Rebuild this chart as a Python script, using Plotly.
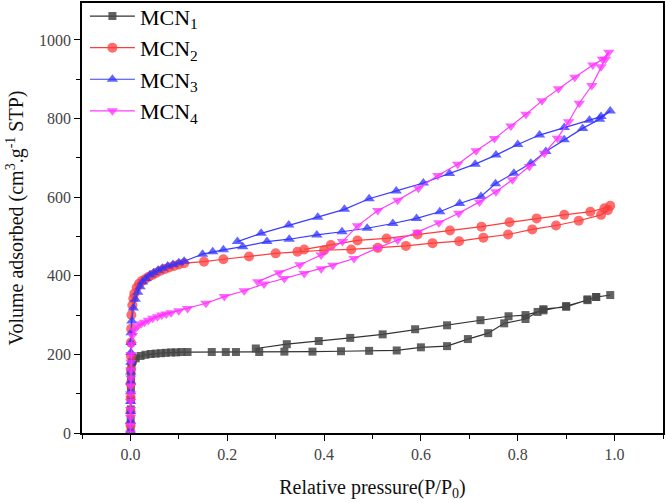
import plotly.graph_objects as go

# ---- data ----
# MCN1
p1_ads = [0.0004, 0.0005, 0.0006, 0.0008, 0.001, 0.0012, 0.0015, 0.002, 0.003, 0.005, 0.011, 0.021, 0.031,
          0.042, 0.052, 0.063, 0.073, 0.084, 0.094, 0.105, 0.118, 0.168, 0.197, 0.218, 0.266, 0.318,
          0.376, 0.435, 0.493, 0.550, 0.600, 0.654, 0.697, 0.739, 0.772, 0.816, 0.841, 0.853, 0.900,
          0.944, 0.962, 0.991]
v1_ads = [10, 35, 60, 85, 110, 135, 155, 170, 180, 185, 190, 196, 199,
          201, 202, 203, 204, 205, 205, 206, 206, 206, 206, 206, 206, 207,
          207, 208, 209, 210, 218, 221, 239, 254, 279, 290, 308, 315, 321,
          340, 346, 351]
p1_des = [0.962, 0.944, 0.900, 0.853, 0.816, 0.781, 0.723, 0.654, 0.588, 0.521, 0.454, 0.389, 0.323, 0.259]
v1_des = [346, 338, 323, 312, 300, 297, 287, 274, 264, 251, 242, 234, 226, 215]

# MCN2
p2_ads = [0.0003, 0.0004, 0.0005, 0.0006, 0.0008, 0.001, 0.0012, 0.0015, 0.002, 0.004, 0.006, 0.008,
          0.013, 0.018, 0.024, 0.030, 0.037, 0.045, 0.053, 0.062, 0.071, 0.080, 0.090, 0.100, 0.111,
          0.152, 0.192, 0.245, 0.300, 0.345, 0.400, 0.456, 0.511, 0.569, 0.624, 0.679, 0.729, 0.780,
          0.830, 0.879, 0.926, 0.972, 0.986, 0.991]
v2_ads = [20, 55, 90, 125, 160, 195, 230, 265, 300, 325, 342, 355,
          370, 380, 387, 391, 397, 402, 407, 413, 417, 421, 425, 429, 432,
          436, 442, 449, 457, 461, 465, 467, 471, 476, 483, 488, 497, 505,
          518, 528, 540, 555, 567, 578]
p2_des = [0.979, 0.950, 0.896, 0.839, 0.783, 0.725, 0.660, 0.593, 0.529, 0.469, 0.414, 0.359]
v2_des = [572, 563, 555, 546, 536, 525, 515, 505, 495, 490, 478, 467]

# MCN3
p3_ads = [0.0002, 0.0003, 0.0004, 0.0005, 0.0006, 0.0007, 0.0008, 0.0009, 0.001, 0.0012, 0.0015, 0.003,
          0.006, 0.010, 0.015, 0.020, 0.025, 0.032, 0.040, 0.048, 0.057, 0.066, 0.077, 0.088, 0.100,
          0.111, 0.149, 0.170, 0.192, 0.232, 0.282, 0.328, 0.385, 0.437, 0.489, 0.542, 0.591, 0.639,
          0.680, 0.724, 0.754, 0.792, 0.827, 0.858, 0.896, 0.934, 0.969, 0.991]
v3_ads = [5, 30, 55, 80, 105, 130, 155, 180, 205, 230, 255, 285,
          318, 340, 358, 372, 384, 393, 402, 408, 414, 419, 425, 429, 433,
          437, 455, 461, 466, 474, 487, 493, 504, 512, 521, 533, 546, 563,
          584, 602, 634, 661, 686, 716, 746, 775, 798, 819]
p3_des = [0.972, 0.948, 0.896, 0.845, 0.800, 0.755, 0.712, 0.659, 0.605, 0.549, 0.493, 0.442,
          0.387, 0.327, 0.270, 0.221]
v3_des = [805, 796, 777, 758, 734, 707, 684, 660, 636, 616, 596, 569,
          549, 529, 508, 487]

# MCN4
p4_ads = [0.0001, 0.0002, 0.0003, 0.0004, 0.0005, 0.0006, 0.0007, 0.0008, 0.0009, 0.001, 0.0012, 0.002,
          0.004, 0.008, 0.015, 0.022, 0.029, 0.037, 0.046, 0.056, 0.065, 0.074, 0.084, 0.100, 0.118,
          0.156, 0.194, 0.235, 0.276, 0.318, 0.359, 0.394, 0.418, 0.462, 0.511, 0.552, 0.593, 0.637,
          0.678, 0.721, 0.755, 0.789, 0.824, 0.855, 0.882, 0.905, 0.927, 0.953, 0.972, 0.981, 0.988]
v4_ads = [0, 20, 40, 60, 80, 100, 120, 140, 160, 180, 200, 225,
          248, 262, 272, 278, 282, 287, 292, 296, 300, 303, 306, 311, 317,
          330, 347, 362, 379, 393, 406, 418, 427, 444, 471, 491, 511, 535,
          559, 588, 614, 644, 678, 712, 750, 792, 839, 884, 932, 951, 969]
p4_des = [0.975, 0.955, 0.918, 0.884, 0.850, 0.817, 0.786, 0.752, 0.714, 0.676, 0.635, 0.595,
          0.552, 0.511, 0.469, 0.438, 0.394, 0.350, 0.307, 0.263]
v4_des = [951, 936, 905, 876, 845, 811, 781, 749, 718, 684, 655, 623,
          592, 566, 527, 487, 453, 428, 408, 385]

names = ["MCN<sub>1</sub>", "MCN<sub>2</sub>", "MCN<sub>3</sub>", "MCN<sub>4</sub>"]
series = [(p1_ads + p1_des, v1_ads + v1_des),
          (p2_ads + p2_des, v2_ads + v2_des),
          (p3_ads + p3_des, v3_ads + v3_des),
          (p4_ads + p4_des, v4_ads + v4_des)]
line_colors = ["#333333", "#ff3b3b", "#3b3bff", "#ff3bff"]
marker_colors = ["rgba(70,70,70,0.85)", "rgba(255,60,60,0.75)", "rgba(50,50,255,0.75)", "rgba(255,50,255,0.75)"]
symbols = ["square", "circle", "triangle-up", "triangle-down"]
sizes = [8, 10, 10, 10]

x_tickvals = [0.0, 0.2, 0.4, 0.6, 0.8, 1.0]
x_ticktext = ["0.0", "0.2", "0.4", "0.6", "0.8", "1.0"]
y_tickvals = [0, 200, 400, 600, 800, 1000]

fig = go.Figure()
for i, (xs, ys) in enumerate(series):
    fig.add_trace(go.Scatter(
        x=xs, y=ys, name=names[i], mode="lines+markers",
        legendgroup=f"g{i}",
        line=dict(color=line_colors[i], width=1.2),
        marker=dict(symbol=symbols[i], size=sizes[i], color=marker_colors[i], line=dict(width=0)),
    ))

serif = "Liberation Serif, Times New Roman, serif"
fig.update_layout(
    width=666, height=503,
    margin=dict(l=82, r=3, t=3, b=70, autoexpand=False),
    plot_bgcolor="white", paper_bgcolor="white",
    font=dict(family=serif, color="#000"),
    showlegend=True,
    legend=dict(x=0.005, y=1.018, xanchor="left", yanchor="top",
                bgcolor="rgba(0,0,0,0)", borderwidth=0,
                font=dict(family=serif, size=22, color="#000"),
                tracegroupgap=0, itemwidth=45),
    xaxis=dict(range=[-0.1, 1.1], tickvals=x_tickvals, ticktext=x_ticktext, automargin=False,
               showgrid=False, zeroline=False, showline=True, linecolor="#000", linewidth=1.5,
               mirror=True, ticks="outside", ticklen=6, tickwidth=1.3, tickcolor="#000",
               minor=dict(dtick=0.1, tick0=0, ticks="outside", ticklen=4, tickwidth=1.2, tickcolor="#000"),
               tickfont=dict(family=serif, size=16, color="#444"),
               title=dict(text="Relative pressure(P/P<sub>0</sub>)", font=dict(family=serif, size=20, color="#111"),
                          standoff=18)),
    yaxis=dict(range=[0, 1094], tickvals=y_tickvals, automargin=False,
               showgrid=False, zeroline=False, showline=True, linecolor="#000", linewidth=1.5,
               mirror=True, ticks="outside", ticklen=6, tickwidth=1.3, tickcolor="#000",
               minor=dict(dtick=100, tick0=0, ticks="outside", ticklen=4, tickwidth=1.2, tickcolor="#000"),
               tickfont=dict(family=serif, size=16, color="#444"),
               title=dict(text="Volume adsorbed (cm<sup>3</sup>.g<sup>-1</sup> STP)",
                          font=dict(family=serif, size=20, color="#111"), standoff=10)),
)

fig.write_html("out.html", config={"displayModeBar": False},
               post_script="document.body.style.margin='0';")
